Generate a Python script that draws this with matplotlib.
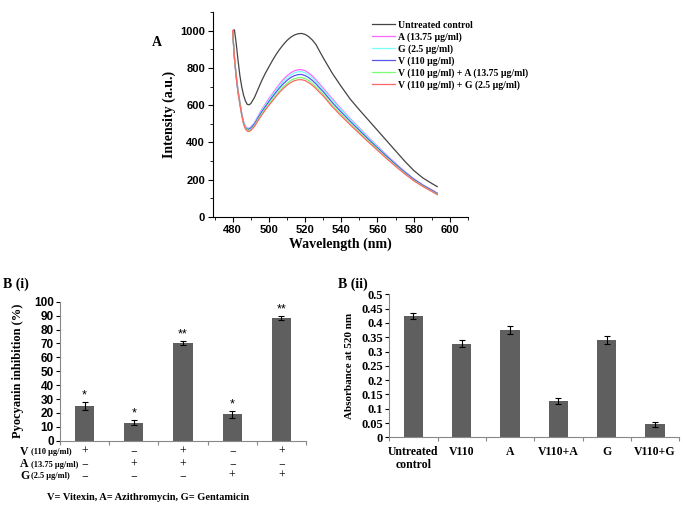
import matplotlib
matplotlib.use('Agg')
import matplotlib.pyplot as plt
from matplotlib.ticker import MultipleLocator

SERIF = 'Liberation Serif'
SANS = 'Liberation Sans'

# ---- Panel A: emission spectra ----
wavelength = [480, 481, 482, 483, 484, 485, 486, 487, 488, 489, 490,
              492, 494, 496, 498, 500, 502, 504, 506, 508, 510, 512, 514, 516, 518, 520,
              522, 524, 526, 528, 530,
              535, 540, 545, 550, 555, 560, 565, 570, 575, 580, 585, 590, 593]
control = [1000, 1004, 930, 840, 760, 700, 655, 625, 605, 602, 608,
           640, 685, 730, 770, 805, 840, 872, 900, 925, 947, 964, 976, 983, 985, 980,
           968, 950, 926, 890, 855,
           772, 700, 632, 575, 520, 465, 410, 355, 300, 250, 210, 180, 163]
a_1375 = [1000, 860, 760, 680, 620, 560, 515, 488, 478, 476, 482,
          505, 540, 575, 605, 635, 662, 689, 715, 738, 757, 773, 784, 790, 791, 785,
          773, 757, 737, 714, 692,
          635, 580, 528, 478, 428, 380, 333, 288, 245, 205, 172, 145, 128]
g_25 = [1000, 858, 757, 677, 617, 557, 512, 485, 476, 474, 480,
        502, 536, 570, 599, 628, 655, 681, 706, 728, 747, 762, 773, 779, 780, 774,
        762, 747, 727, 705, 684,
        628, 575, 524, 474, 425, 377, 330, 285, 243, 203, 170, 143, 126]
v_110 = [1000, 850, 748, 668, 608, 550, 506, 480, 472, 471, 477,
         498, 531, 563, 591, 619, 645, 670, 694, 715, 733, 748, 758, 764, 765, 759,
         748, 733, 715, 693, 673,
         615, 563, 513, 465, 417, 371, 326, 283, 241, 203, 171, 144, 127]
v_a = [1000, 855, 752, 672, 610, 550, 505, 478, 466, 464, 469,
       490, 522, 553, 580, 607, 632, 656, 680, 700, 717, 732, 742, 747, 748, 743,
       732, 717, 699, 679, 659,
       601, 550, 501, 455, 408, 363, 318, 276, 235, 197, 166, 139, 122]
v_g = [1000, 855, 752, 671, 608, 548, 502, 474, 461, 459, 464,
       485, 516, 546, 573, 599, 623, 647, 670, 690, 707, 721, 731, 736, 737, 732,
       721, 707, 689, 669, 650,
       592, 542, 494, 448, 402, 358, 314, 272, 232, 195, 164, 137, 120]
spectra_labels = ['Untreated control', 'A (13.75 µg/ml)', 'G (2.5 µg/ml)', 'V (110 µg/ml)',
                  'V (110 µg/ml) + A (13.75 µg/ml)', 'V (110 µg/ml) + G (2.5 µg/ml)']
spectra_colors = ['#444444', '#ff66ff', '#77ffff', '#5555ee', '#77ff77', '#ff6666']

# ---- Panel B(i): pyocyanin inhibition ----
inhib = [25, 13, 70, 19, 88]
inhib_err = [3, 2, 1.5, 2.5, 1.5]
inhib_stars = ['*', '*', '**', '*', '**']
v_signs = ['+', '\u2212', '+', '\u2212', '+']
a_signs = ['\u2212', '+', '+', '\u2212', '\u2212']
g_signs = ['\u2212', '\u2212', '\u2212', '+', '+']

# ---- Panel B(ii): absorbance ----
abs_groups = ['Untreated\ncontrol', 'V110', 'A', 'V110+A', 'G', 'V110+G']
absorb = [0.425, 0.327, 0.375, 0.127, 0.341, 0.045]
absorb_err = [0.010, 0.013, 0.013, 0.012, 0.014, 0.009]

W, H = 685, 507
fig = plt.figure(figsize=(W / 100, H / 100), dpi=100)
fig.patch.set_facecolor('white')


def px(x, y):
    return x / W, 1 - y / H


# Panel A
axA = fig.add_axes([212.7 / W, 290 / H, 255.3 / W, 205 / H])
series = [control, a_1375, g_25, v_110, v_a, v_g]
for ys, lab, col in zip(series, spectra_labels, spectra_colors):
    axA.plot(wavelength, ys, color=col, lw=0.9, label=lab)
axA.set_xlim(469, 610)
axA.set_ylim(0, 1100)
axA.xaxis.set_major_locator(MultipleLocator(20))
axA.xaxis.set_minor_locator(MultipleLocator(10))
axA.yaxis.set_major_locator(MultipleLocator(200))
axA.yaxis.set_minor_locator(MultipleLocator(100))
for s in ['top', 'right']:
    axA.spines[s].set_visible(False)
axA.tick_params(which='major', length=3.5, width=0.8, labelsize=8, pad=2)
axA.tick_params(which='minor', length=2, width=0.6)
for t in axA.get_xticklabels() + axA.get_yticklabels():
    t.set_fontfamily(SANS)
    t.set_fontweight('bold')
axA.set_xlabel('Wavelength (nm)', fontfamily=SERIF, fontweight='bold', fontsize=10, labelpad=2)
axA.set_ylabel('Intensity (a.u.)', fontfamily=SERIF, fontweight='bold', fontsize=10, labelpad=3)
axA.legend(loc='upper left', bbox_to_anchor=(0.59, 1.0), frameon=False,
           prop={'family': SERIF, 'weight': 'bold', 'size': 7},
           handlelength=2.4, handletextpad=0.3, labelspacing=0.25, borderaxespad=0.5)
fig.text(*px(152, 43), 'A', fontfamily=SERIF, fontweight='bold', fontsize=10, va='center')

# Panel B(i)
axB1 = fig.add_axes([60 / W, 66.3 / H, 246 / W, 139 / H])
xs = list(range(len(inhib)))
axB1.bar(xs, inhib, width=0.39, color='#5f5f5f', yerr=inhib_err,
         error_kw=dict(ecolor='black', elinewidth=0.8, capsize=2, capthick=0.8))
for x, v, e, s in zip(xs, inhib, inhib_err, inhib_stars):
    axB1.text(x, v + e + 0.5, s, ha='center', va='bottom', fontsize=9, fontfamily=SANS)
axB1.set_xlim(-0.5, len(inhib) - 0.5)
axB1.set_ylim(0, 100)
axB1.yaxis.set_major_locator(MultipleLocator(10))
axB1.set_xticks([i - 0.5 for i in range(len(inhib) + 1)])
axB1.set_xticklabels([])
axB1.tick_params(axis='x', length=3, width=0.8, color='#888888')
axB1.tick_params(axis='y', length=3, width=0.8, labelsize=8.5, pad=1.5)
for t in axB1.get_yticklabels():
    t.set_fontfamily(SANS)
    t.set_fontweight('bold')
for s in ['top', 'right']:
    axB1.spines[s].set_visible(False)
axB1.spines['bottom'].set_color('#888888')
axB1.spines['left'].set_color('#888888')
axB1.set_ylabel('Pyocyanin inhibition (%)', fontfamily=SERIF, fontweight='bold', fontsize=9,
                labelpad=7)

rows = [('V', '(110 µg/ml)', v_signs, 451.7),
        ('A', '(13.75 µg/ml)', a_signs, 464.3),
        ('G', '(2.5 µg/ml)', g_signs, 476)]
for big, small, signs, yrow in rows:
    fig.text(*px(20, yrow), big, fontfamily=SERIF, fontweight='bold', fontsize=8.5, va='center')
    fig.text(*px(31, yrow + 0.5), small, fontfamily=SERIF, fontweight='bold', fontsize=6, va='center')
    for x, s in zip(xs, signs):
        xf = axB1.transData.transform((x, 0))[0] / fig.dpi / fig.get_figwidth()
        fig.text(xf, 1 - yrow / H, s, fontfamily=SERIF, fontsize=8.5, ha='center', va='center')
fig.text(*px(148, 498), 'V= Vitexin, A= Azithromycin, G= Gentamicin', fontfamily=SERIF,
         fontweight='bold', fontsize=7.5, ha='center', va='center')
fig.text(*px(3, 284), 'B (i)', fontfamily=SERIF, fontweight='bold', fontsize=10, va='center')

# Panel B(ii)
axB2 = fig.add_axes([389.3 / W, 69.7 / H, 290 / W, 143 / H])
xs2 = list(range(len(absorb)))
axB2.bar(xs2, absorb, width=0.4, color='#5f5f5f', yerr=absorb_err,
         error_kw=dict(ecolor='black', elinewidth=0.8, capsize=2, capthick=0.8))
axB2.set_xlim(-0.5, len(absorb) - 0.5)
axB2.set_ylim(0, 0.5)
axB2.set_yticks([i * 0.05 for i in range(11)])
axB2.set_yticklabels(['0', '0.05', '0.1', '0.15', '0.2', '0.25', '0.3', '0.35', '0.4', '0.45', '0.5'])
axB2.set_xticks([i - 0.5 for i in range(len(absorb) + 1)])
axB2.set_xticklabels([])
axB2.set_xticks(xs2, minor=True)
axB2.set_xticklabels(abs_groups, minor=True)
axB2.tick_params(axis='x', which='major', length=3, width=0.8, color='#888888')
axB2.tick_params(axis='x', which='minor', length=0, pad=6)
axB2.tick_params(axis='y', length=3, width=0.8, labelsize=9, pad=1.5)
for t in axB2.get_yticklabels() + axB2.get_xticklabels(minor=True):
    t.set_fontfamily(SERIF)
    t.set_fontweight('bold')
for t in axB2.get_xticklabels(minor=True):
    t.set_fontsize(8.5)
for s in ['top', 'right']:
    axB2.spines[s].set_visible(False)
axB2.spines['bottom'].set_color('#888888')
axB2.spines['left'].set_color('#888888')
axB2.set_ylabel('Absorbance at 520 nm', fontfamily=SERIF, fontweight='bold', fontsize=8,
                labelpad=5)
fig.text(*px(338, 284), 'B (ii)', fontfamily=SERIF, fontweight='bold', fontsize=10, va='center')

fig.savefig('out.png', dpi=100, facecolor='white')
